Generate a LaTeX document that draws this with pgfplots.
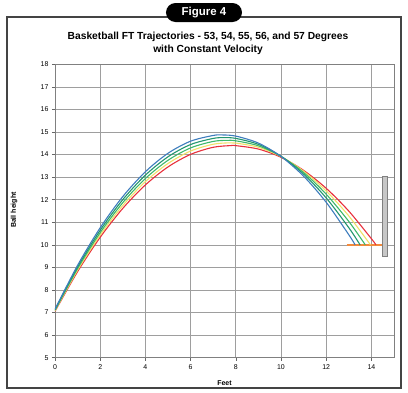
\documentclass[border=0pt]{standalone}
\usepackage{pgfplots}
\pgfplotsset{compat=1.18}
\usepackage{fontspec}
\setmainfont{Liberation Sans}
\definecolor{cblue}{HTML}{3E7DBD}
\definecolor{cteal}{HTML}{22966E}
\definecolor{cgreen}{HTML}{3DB86A}
\definecolor{cyellow}{HTML}{F0E068}
\definecolor{cred}{HTML}{E8303C}
\definecolor{corange}{HTML}{F28A3C}
\definecolor{cframe}{HTML}{444444}
\begin{document}
\begin{tikzpicture}[x=1bp,y=1bp]
\useasboundingbox (-55,-35.3) rectangle (353,357.7);
\draw[line width=1.6bp, color=cframe] (-48,-30.5) rectangle (346,340.7);
\node[fill=black, rounded corners=9.5bp, minimum width=76bp, minimum height=19bp, inner sep=0pt,
  text=white, font=\bfseries\fontsize{11.5}{12}\selectfont] at (149,345.2) {Figure 4};
\node[align=center, font=\bfseries\fontsize{10.3}{12.6}\selectfont] at (153,314.2)
  {Basketball FT Trajectories - 53, 54, 55, 56, and 57 Degrees\\with Constant Velocity};
\begin{axis}[
  at={(0,0)}, anchor=south west,
  scale only axis, width=339bp, height=293.4bp,
  xmin=0, xmax=15, ymin=5, ymax=18,
  xtick={0,2,...,14}, ytick={5,6,...,18},
  grid=major,
  major grid style={color=black!38, line width=0.7bp},
  axis line style={color=black!50, line width=0.7bp},
  tick align=outside, xtick pos=lower, ytick pos=left,
  major tick length=3bp,
  tick style={color=black!60, line width=0.6bp},
  tick label style={font=\fontsize{7}{8}\selectfont},
  /pgf/number format/assume math mode=true,
  xlabel={Feet}, ylabel={Ball height},
  label style={font=\bfseries\fontsize{7}{8}\selectfont},
  xlabel style={at={(axis description cs:0.5,-0.086)}, anchor=center},
  ylabel style={at={(axis description cs:-0.121,0.503)}, anchor=center},
  every axis plot/.append style={line width=1.1bp},
]
\addplot[color=corange, line width=2.6bp] coordinates {(12.9,10) (14.5,10)};
\addplot[fill=black!22, draw=black!50, line width=0.7bp] coordinates {(14.48,9.5) (14.72,9.5) (14.72,13.02) (14.48,13.02)} -- cycle;
\addplot[color=cred, smooth] coordinates {
(0,7.051) (1,8.814) (2,10.336) (3,11.617) (4,12.656) (5,13.453) (6,14.009) (7,14.323) (7.8,14.4)
(8,14.396) (9,14.245) (10,13.880) (11,13.300) (12,12.505) (13,11.496) (14,10.271) (14.2,10.0)};
\addplot[color=cyellow, smooth] coordinates {
(0,7.073) (1,8.882) (2,10.439) (3,11.745) (4,12.801) (5,13.604) (6,14.157) (7,14.458) (7.7,14.52)
(8,14.510) (9,14.325) (10,13.910) (11,13.264) (12,12.388) (13,11.281) (13.96,10.0)};
\addplot[color=cgreen, smooth] coordinates {
(0,7.098) (1,8.950) (2,10.541) (3,11.871) (4,12.940) (5,13.748) (6,14.296) (7,14.583) (7.6,14.63)
(8,14.610) (9,14.389) (10,13.920) (11,13.206) (12,12.245) (13,11.037) (13.73,10.0)};
\addplot[color=cteal, smooth] coordinates {
(0,7.125) (1,9.021) (2,10.648) (3,12.004) (4,13.089) (5,13.902) (6,14.445) (7,14.716) (7.5,14.75)
(8,14.717) (9,14.453) (10,13.926) (11,13.134) (12,12.079) (13,10.760) (13.5,10.0)};
\addplot[color=cblue, smooth] coordinates {
(0,7.15) (1,9.095) (2,10.758) (3,12.140) (4,13.240) (5,14.058) (6,14.594) (7,14.847) (7.4,14.87)
(8,14.819) (9,14.509) (10,13.917) (11,13.043) (12,11.886) (13,10.448) (13.28,10.0)};
\end{axis}
\end{tikzpicture}
\end{document}
